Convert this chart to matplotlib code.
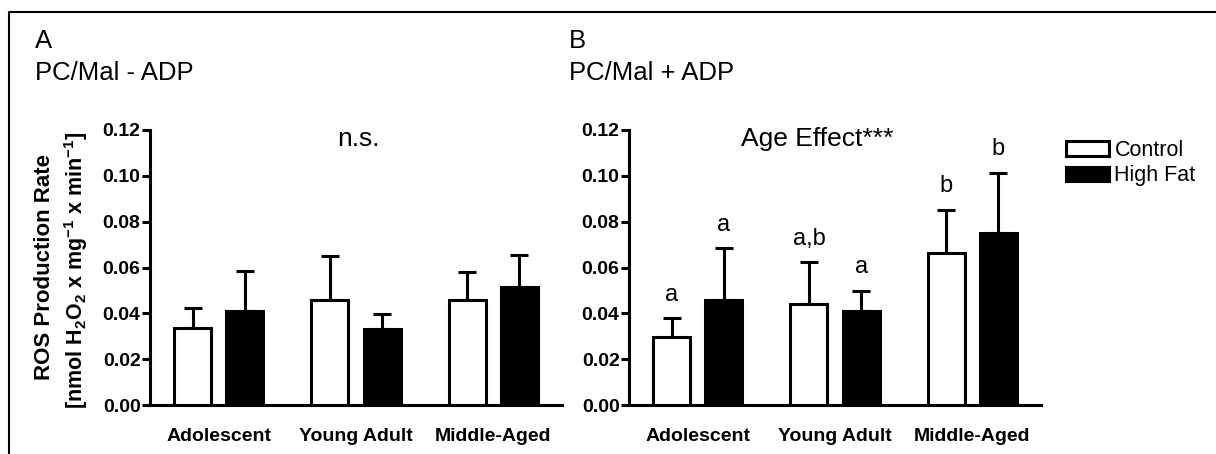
import numpy as np
import matplotlib
matplotlib.use("Agg")
import matplotlib.pyplot as plt
from matplotlib.lines import Line2D
from matplotlib.patches import Patch

plt.rcParams['font.family'] = ['Liberation Sans', 'DejaVu Sans']
plt.rcParams['mathtext.fontset'] = 'custom'
plt.rcParams['mathtext.rm'] = 'Liberation Sans:bold'
plt.rcParams['mathtext.default'] = 'rm'

# data
groups = ['Adolescent', 'Young Adult', 'Middle-Aged']
series = ['Control', 'High Fat']

# panel A: PC/Mal - ADP
a_ctrl = [0.0335, 0.0458, 0.0460]
a_ctrl_se = [0.0090, 0.0192, 0.0122]
a_hf = [0.0410, 0.0333, 0.0516]
a_hf_se = [0.0176, 0.0064, 0.0139]

# panel B: PC/Mal + ADP
b_ctrl = [0.0298, 0.0439, 0.0665]
b_ctrl_se = [0.0080, 0.0184, 0.0186]
b_hf = [0.0458, 0.0410, 0.0752]
b_hf_se = [0.0226, 0.0089, 0.0262]
b_ctrl_letters = ['a', 'a,b', 'b']
b_hf_letters = ['a', 'a', 'b']

yticks = [0.00, 0.02, 0.04, 0.06, 0.08, 0.10, 0.12]

W, H = 1216, 454
fig = plt.figure(figsize=(W / 100, H / 100), dpi=100)

LW = 2.2
x = np.arange(len(groups))
off = 0.19
bw = 0.27


def draw_panel(ax, ctrl, ctrl_se, hf, hf_se, note, note_x):
    ax.bar(x - off, ctrl, bw, color='white', edgecolor='black', linewidth=LW, zorder=3)
    ax.bar(x + off, hf, bw, color='black', edgecolor='black', linewidth=LW, zorder=3)
    ax.errorbar(x - off, ctrl, yerr=[np.zeros(3), ctrl_se], fmt='none', ecolor='black',
                elinewidth=LW, capsize=6.8, capthick=LW, zorder=2)
    ax.errorbar(x + off, hf, yerr=[np.zeros(3), hf_se], fmt='none', ecolor='black',
                elinewidth=LW, capsize=6.8, capthick=LW, zorder=2)
    ax.set_xlim(-0.5, 2.5)
    ax.set_ylim(0, 0.12)
    ax.set_yticks(yticks)
    ax.set_yticklabels(['%.2f' % v for v in yticks], fontweight='bold', fontsize=14)
    ax.set_xticks(x)
    ax.set_xticklabels(groups, fontweight='bold', fontsize=14)
    ax.tick_params(axis='x', length=0, pad=16.5)
    ax.tick_params(axis='y', length=5.8, width=LW, pad=1)
    for s in ['top', 'right']:
        ax.spines[s].set_visible(False)
    for s in ['left', 'bottom']:
        ax.spines[s].set_linewidth(LW)
    ax.text(note_x, 0.116, note, ha='center', va='center', fontsize=19)


axA = fig.add_axes([150 / W, 49 / H, 412 / W, 275 / H])
draw_panel(axA, a_ctrl, a_ctrl_se, a_hf, a_hf_se, 'n.s.', 1.02)

axB = fig.add_axes([629 / W, 49 / H, 412 / W, 275 / H])
draw_panel(axB, b_ctrl, b_ctrl_se, b_hf, b_hf_se, 'Age Effect***', 0.87)

for i in range(3):
    axB.annotate(b_ctrl_letters[i], (x[i] - off, b_ctrl[i] + b_ctrl_se[i]), xytext=(0, 9),
                 textcoords='offset points', ha='center', va='bottom', fontsize=17)
    axB.annotate(b_hf_letters[i], (x[i] + off, b_hf[i] + b_hf_se[i]), xytext=(0, 9),
                 textcoords='offset points', ha='center', va='bottom', fontsize=17)

# y axis label (two lines)
fig.text(45 / W, 1 - 267 / H, 'ROS Production Rate', rotation=90, ha='center', va='center',
         fontsize=16, fontweight='bold')
fig.text(76 / W, 1 - 270 / H, r'[nmol H$_2$O$_2$ x mg$^{-1}$ x min$^{-1}$]', rotation=90,
         ha='center', va='center', fontsize=15.5, fontweight='bold')

# panel titles
fig.text(35 / W, 1 - 48 / H, 'A', fontsize=18.5, va='baseline')
fig.text(35 / W, 1 - 80 / H, 'PC/Mal - ADP', fontsize=18.5, va='baseline')
fig.text(569 / W, 1 - 48 / H, 'B', fontsize=18.5, va='baseline')
fig.text(569 / W, 1 - 80 / H, 'PC/Mal + ADP', fontsize=18.5, va='baseline')

# legend
handles = [Patch(facecolor='white', edgecolor='black', linewidth=LW),
           Patch(facecolor='black', edgecolor='black', linewidth=LW)]
fig.legend(handles, series, loc='upper left', bbox_to_anchor=(1066 / W, 1 - 140 / H),
           frameon=False, fontsize=15.5, handlelength=2.0, handleheight=0.65,
           handletextpad=0.25, labelspacing=0.2, borderpad=0, borderaxespad=0)

# outer frame (open on right and bottom)
fig.add_artist(Line2D([9 / W, 9 / W, 1.0], [0.0, 1 - 12 / H, 1 - 12 / H],
                      transform=fig.transFigure, color='black', linewidth=1.5))

fig.savefig('out.png', dpi=100)
